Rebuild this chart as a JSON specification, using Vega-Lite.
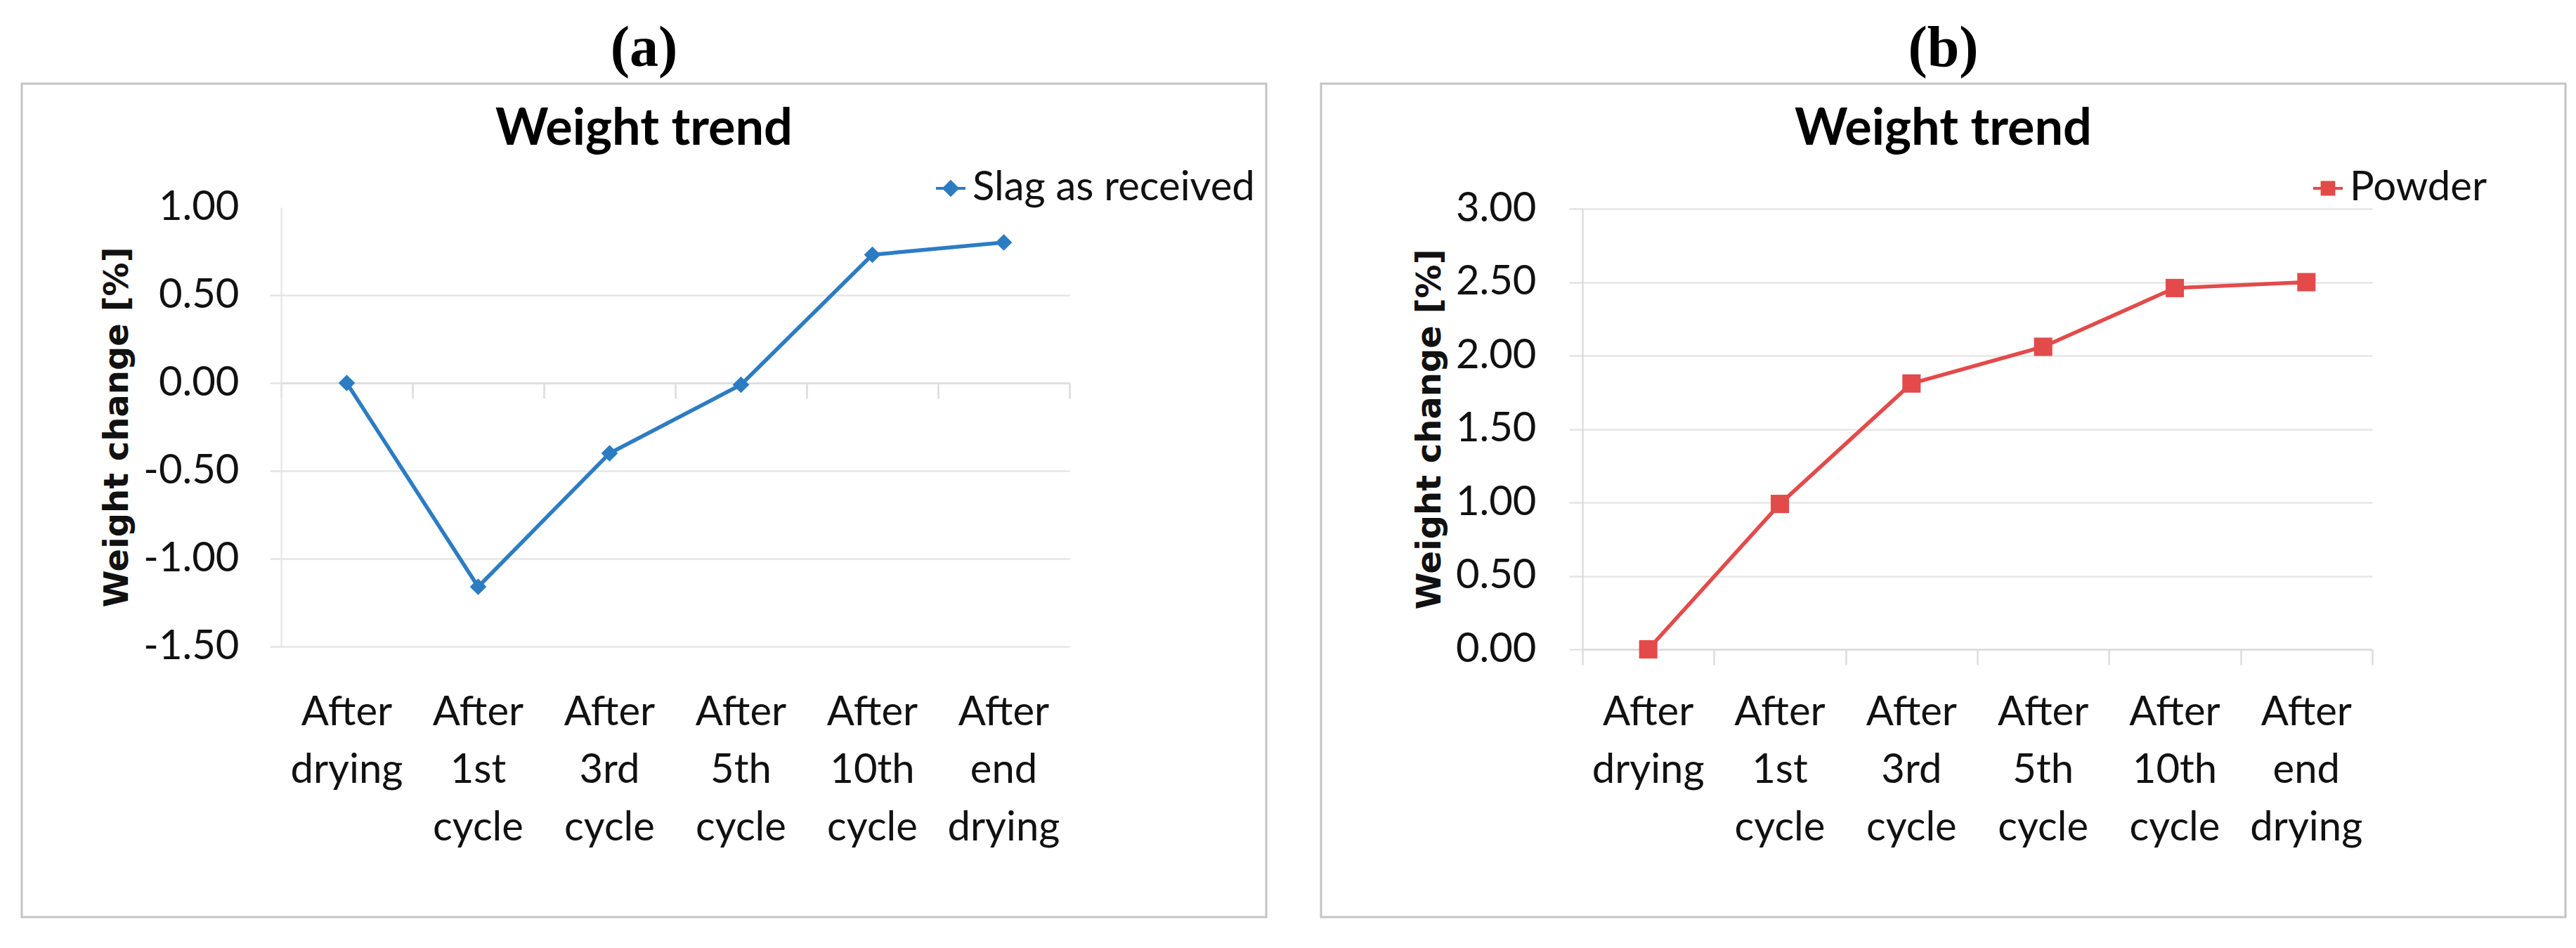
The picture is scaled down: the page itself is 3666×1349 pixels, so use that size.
{
  "$schema": "https://vega.github.io/schema/vega-lite/v6.json",
  "background": "white",
  "padding": {"left": 29, "top": 26, "right": 5, "bottom": 5},
  "resolve": {"scale": {"color": "independent"}, "legend": {"color": "independent"}},
  "datasets": {
    "slag": [
      {"stage": "After drying", "value": 0.00, "series": "Slag as received"},
      {"stage": "After 1st cycle", "value": -1.16, "series": "Slag as received"},
      {"stage": "After 3rd cycle", "value": -0.40, "series": "Slag as received"},
      {"stage": "After 5th cycle", "value": -0.01, "series": "Slag as received"},
      {"stage": "After 10th cycle", "value": 0.73, "series": "Slag as received"},
      {"stage": "After end drying", "value": 0.80, "series": "Slag as received"}
    ],
    "powder": [
      {"stage": "After drying", "value": 0.00, "series": "Powder"},
      {"stage": "After 1st cycle", "value": 0.99, "series": "Powder"},
      {"stage": "After 3rd cycle", "value": 1.81, "series": "Powder"},
      {"stage": "After 5th cycle", "value": 2.06, "series": "Powder"},
      {"stage": "After 10th cycle", "value": 2.46, "series": "Powder"},
      {"stage": "After end drying", "value": 2.50, "series": "Powder"}
    ]
  },
  "spacing": 74,
  "hconcat": [
    {
      "width": 1771,
      "height": 1186,
      "data": {"name": "slag"},
      "title": {
        "text": "(a)",
        "subtitle": "Weight trend",
        "anchor": "middle",
        "frame": "group",
        "offset": -102,
        "subtitlePadding": 38
      },
      "resolve": {"axis": {"x": "independent"}},
      "layer": [
        {
          "mark": {"type": "line", "strokeWidth": 5.5, "color": "#2c7cc3"},
          "encoding": {
            "x": {
              "field": "stage", "type": "nominal", "bandPosition": 0.5,
              "sort": ["After drying", "After 1st cycle", "After 3rd cycle", "After 5th cycle", "After 10th cycle", "After end drying"],
              "scale": {"type": "band", "range": [369, 1491], "paddingInner": 0, "paddingOuter": 0},
              "axis": {
                "orient": "bottom", "offset": -336, "title": null, "domain": false, "ticks": false, "grid": false,
                "labelAngle": 0, "labelPadding": 16, "labelExpr": "split(datum.label, ' ')",
                "labelFont": "Lato", "labelFontSize": 58, "labelColor": "#111111", "labelLineHeight": 82,
                "labelOverlap": false, "labelBound": false, "labelFlush": false
              }
            },
            "y": {
              "field": "value", "type": "quantitative",
              "scale": {"domain": [-1.5, 1], "range": [801, 176], "nice": false, "zero": false},
              "axis": {
                "orient": "left", "offset": -369, "values": [-1.5, -1, -0.5, 0, 0.5, 1],
                "labelExpr": "(datum.value < 0 ? '-' : '') + format(abs(datum.value), '.2f')",
                "labelFont": "Lato", "labelFontSize": 58, "labelColor": "#111111", "labelPadding": 44,
                "tickSize": 16, "tickColor": "#e3e3e3", "tickWidth": 2.5,
                "tickOpacity": {"condition": {"test": "datum.value === 1", "value": 0}, "value": 1},
                "domainColor": "#e3e3e3", "domainWidth": 2,
                "grid": true, "gridColor": "#e6e6e6", "gridWidth": 2.5,
                "gridOpacity": {"condition": {"test": "datum.value === 1", "value": 0}, "value": 1},
                "title": "Weight change [%]", "titleFont": "DejaVu Sans", "titleFontWeight": "bold",
                "titleFontSize": 48, "titleColor": "#111111", "titlePadding": 12
              }
            },
            "color": {
              "field": "series", "type": "nominal",
              "scale": {"range": ["#2c7cc3"]},
              "legend": {
                "title": null, "orient": "none", "legendX": 1293, "legendY": 120, "padding": 0,
                "labelFont": "Lato", "labelFontSize": 58, "labelColor": "#111111", "labelOffset": 2, "labelLimit": 800,
                "symbolType": "M-1,0H1M0,-0.45L0.45,0L0,0.45L-0.45,0Z", "symbolSize": 1764,
                "symbolStrokeWidth": 4, "symbolFillColor": "#2c7cc3", "symbolStrokeColor": "#2c7cc3"
              }
            }
          }
        },
        {
          "mark": {"type": "point", "shape": "diamond", "size": 560, "filled": true, "opacity": 1, "color": "#2c7cc3"},
          "encoding": {
            "x": {
              "field": "stage", "type": "nominal", "bandPosition": 0.5,
              "sort": ["After drying", "After 1st cycle", "After 3rd cycle", "After 5th cycle", "After 10th cycle", "After end drying"],
              "axis": {
                "orient": "bottom", "offset": -760, "title": null, "labels": false, "grid": false,
                "domain": true, "domainColor": "#dcdcdc", "domainWidth": 2.5,
                "ticks": true, "tickBand": "extent", "tickSize": 22, "tickColor": "#dcdcdc", "tickWidth": 2.5
              }
            },
            "y": {"field": "value", "type": "quantitative"}
          }
        }
      ]
    },
    {
      "width": 1771,
      "height": 1186,
      "data": {"name": "powder"},
      "title": {
        "text": "(b)",
        "subtitle": "Weight trend",
        "anchor": "middle",
        "frame": "group",
        "offset": -102,
        "subtitlePadding": 38
      },
      "resolve": {"axis": {"x": "independent"}},
      "layer": [
        {
          "mark": {"type": "line", "strokeWidth": 5.5, "color": "#e34a4a"},
          "encoding": {
            "x": {
              "field": "stage", "type": "nominal", "bandPosition": 0.5,
              "sort": ["After drying", "After 1st cycle", "After 3rd cycle", "After 5th cycle", "After 10th cycle", "After end drying"],
              "scale": {"type": "band", "range": [372, 1496], "paddingInner": 0, "paddingOuter": 0},
              "axis": {
                "orient": "bottom", "offset": -336, "title": null, "domain": false, "ticks": false, "grid": false,
                "labelAngle": 0, "labelPadding": 16, "labelExpr": "split(datum.label, ' ')",
                "labelFont": "Lato", "labelFontSize": 58, "labelColor": "#111111", "labelLineHeight": 82,
                "labelOverlap": false, "labelBound": false, "labelFlush": false
              }
            },
            "y": {
              "field": "value", "type": "quantitative",
              "scale": {"domain": [0, 3], "range": [805, 178], "nice": false, "zero": false},
              "axis": {
                "orient": "left", "offset": -372, "values": [0, 0.5, 1, 1.5, 2, 2.5, 3],
                "labelExpr": "format(datum.value, '.2f')",
                "labelFont": "Lato", "labelFontSize": 58, "labelColor": "#111111", "labelPadding": 47,
                "tickSize": 19, "tickColor": "#e3e3e3", "tickWidth": 2.5,
                "domainColor": "#d6d6d6", "domainWidth": 2,
                "grid": true, "gridColor": "#e6e6e6", "gridWidth": 2.5,
                "title": "Weight change [%]", "titleFont": "DejaVu Sans", "titleFontWeight": "bold",
                "titleFontSize": 48, "titleColor": "#111111", "titlePadding": 12
              }
            },
            "color": {
              "field": "series", "type": "nominal",
              "scale": {"range": ["#e34a4a"]},
              "legend": {
                "title": null, "orient": "none", "legendX": 1404, "legendY": 120, "padding": 0,
                "labelFont": "Lato", "labelFontSize": 58, "labelColor": "#111111", "labelOffset": 2, "labelLimit": 800,
                "symbolType": "M-1,0H1M-0.4,-0.4H0.4V0.4H-0.4Z", "symbolSize": 1764,
                "symbolStrokeWidth": 4, "symbolFillColor": "#e34a4a", "symbolStrokeColor": "#e34a4a"
              }
            }
          }
        },
        {
          "mark": {"type": "square", "size": 680, "filled": true, "opacity": 1, "color": "#e34a4a"},
          "encoding": {
            "x": {
              "field": "stage", "type": "nominal", "bandPosition": 0.5,
              "sort": ["After drying", "After 1st cycle", "After 3rd cycle", "After 5th cycle", "After 10th cycle", "After end drying"],
              "axis": {
                "orient": "bottom", "offset": -381, "title": null, "labels": false, "grid": false,
                "domain": true, "domainColor": "#dcdcdc", "domainWidth": 2.5,
                "ticks": true, "tickBand": "extent", "tickSize": 22, "tickColor": "#dcdcdc", "tickWidth": 2.5
              }
            },
            "y": {"field": "value", "type": "quantitative"}
          }
        }
      ]
    }
  ],
  "config": {
    "view": {"stroke": "#c4c4c4", "strokeWidth": 3},
    "title": {
      "font": "Liberation Serif", "fontSize": 82, "fontWeight": "bold", "color": "#000000",
      "subtitleFont": "Lato", "subtitleFontSize": 72, "subtitleFontWeight": "bold", "subtitleColor": "#000000"
    }
  }
}
